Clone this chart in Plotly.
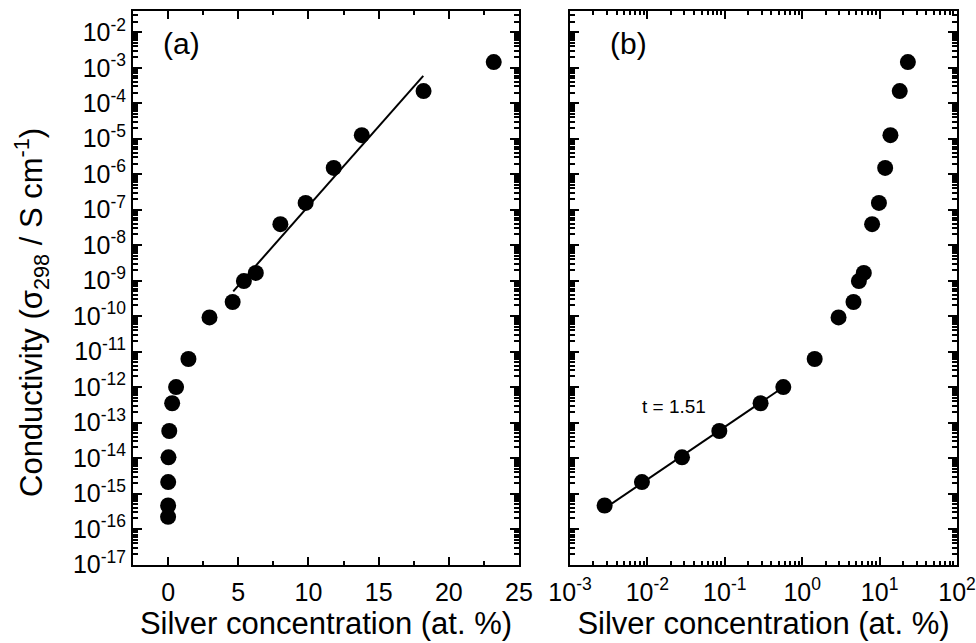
import plotly.graph_objects as go

# ---- data ----
silver_at_pct = [0.0, 0.0028, 0.0085, 0.028, 0.085, 0.29, 0.57, 1.45, 2.95,
                 4.6, 5.4, 6.25, 8.0, 9.8, 11.8, 13.8, 18.2, 23.2]
conductivity = [2.2e-16, 4.6e-16, 2.1e-15, 1.05e-14, 5.8e-14, 3.5e-13, 1.0e-12,
                6.2e-12, 9.2e-11, 2.5e-10, 9.7e-10, 1.65e-9, 3.9e-8, 1.55e-7,
                1.5e-6, 1.26e-5, 2.2e-4, 1.45e-3]

fit_a_x = [4.64, 18.18]
fit_a_y = [5.0e-10, 5.9e-4]

fit_b_x = [0.00244, 0.521]
fit_b_y = [3.1e-16, 8.7e-13]

y_decades = list(range(-17, -1))          # 1e-17 ... 1e-2
y_tick_vals = [10.0 ** d for d in y_decades]
y_tick_text = ["10<sup>%d</sup>" % d for d in y_decades]

xb_decades = list(range(-3, 3))
xb_tick_vals = [10.0 ** d for d in xb_decades]
xb_tick_text = ["10<sup>%d</sup>" % d for d in xb_decades]

a_x_ticks = [0, 5, 10, 15, 20, 25]

fit_label = "t = 1.51"
x_title = "Silver concentration (at. %)"
y_title = "Conductivity (σ<sub>298</sub> / S cm<sup>-1</sup>)"

# ---- figure ----
FONT = "Liberation Sans, Arial, sans-serif"
W, H = 976, 643

def minor_log(decs):
    out = []
    for d in decs:
        for k in range(2, 10):
            out.append(k * 10.0 ** d)
    return out

fig = go.Figure()

mk = dict(color="black", size=16, line=dict(width=0))

fig.add_trace(go.Scatter(x=silver_at_pct, y=conductivity, mode="markers",
                         marker=mk, xaxis="x", yaxis="y", showlegend=False))
fig.add_trace(go.Scatter(x=fit_a_x, y=fit_a_y, mode="lines",
                         line=dict(color="black", width=2), xaxis="x", yaxis="y",
                         showlegend=False))

pos = [(x, y) for x, y in zip(silver_at_pct, conductivity) if x > 0]
fig.add_trace(go.Scatter(x=[p[0] for p in pos], y=[p[1] for p in pos], mode="markers",
                         marker=mk, xaxis="x2", yaxis="y2", showlegend=False))
fig.add_trace(go.Scatter(x=fit_b_x, y=fit_b_y, mode="lines",
                         line=dict(color="black", width=2), xaxis="x2", yaxis="y2",
                         showlegend=False))

ydom = [(H - 564.5) / H, (H - 11) / H]
xdom_a = [133 / W, 519 / W]
xdom_b = [570 / W, 957 / W]

common = dict(showline=True, linecolor="black", linewidth=2, mirror="allticks",
              ticks="inside", tickcolor="black", tickwidth=2, showgrid=False,
              zeroline=False, tickfont=dict(family=FONT, size=25, color="black"))

minor_y = dict(ticks="inside", ticklen=5, tickwidth=1.5, tickcolor="black",
               tickmode="array", tickvals=minor_log(range(-17, -1)), showgrid=False)

TITLE_FONT = dict(family=FONT, size=31, color="black")

fig.update_layout(
    width=W, height=H,
    margin=dict(l=0, r=0, t=0, b=0),
    paper_bgcolor="white", plot_bgcolor="white",
    font=dict(family=FONT, color="black"),
    xaxis=dict(domain=xdom_a, anchor="y", range=[-2.5, 25],
               tickmode="array", tickvals=a_x_ticks, ticklen=8, ticklabelstandoff=4,
               minor=dict(ticks="inside", ticklen=4, tickwidth=1.5, tickcolor="black",
                          dtick=2.5, tick0=0, showgrid=False),
               title=dict(text=x_title, font=TITLE_FONT, standoff=8),
               automargin=False, **common),
    yaxis=dict(domain=ydom, anchor="x", type="log", range=[-17, -1.4],
               tickmode="array", tickvals=y_tick_vals, ticktext=y_tick_text, ticklen=9,
               minor=minor_y, automargin=False, **common),
    xaxis2=dict(domain=xdom_b, anchor="y2", type="log", range=[-3, 2],
                tickmode="array", tickvals=xb_tick_vals, ticktext=xb_tick_text, ticklen=8,
                ticklabelstandoff=4,
                minor=dict(ticks="inside", ticklen=4, tickwidth=1.5, tickcolor="black",
                           tickmode="array", tickvals=minor_log(range(-3, 2)), showgrid=False),
                title=dict(text=x_title, font=TITLE_FONT, standoff=8),
                automargin=False, **common),
    yaxis2=dict(domain=ydom, anchor="x2", type="log", range=[-17, -1.4],
                tickmode="array", tickvals=y_tick_vals, ticklen=9, showticklabels=False,
                minor=minor_y, automargin=False, **common),
    annotations=[
        dict(text=y_title, xref="paper", yref="paper", x=31 / W, y=(H - 313) / H,
             xanchor="center", yanchor="middle", textangle=-90, showarrow=False,
             font=TITLE_FONT),
        dict(text="(a)", xref="x domain", yref="y domain", x=(161 - 133) / 386,
             y=(564.5 - 43) / 553.5, xanchor="left", yanchor="middle", showarrow=False,
             font=dict(family=FONT, size=30, color="black")),
        dict(text="(b)", xref="x2 domain", yref="y2 domain", x=(608 - 570) / 387,
             y=(564.5 - 43) / 553.5, xanchor="left", yanchor="middle", showarrow=False,
             font=dict(family=FONT, size=30, color="black")),
        dict(text=fit_label, xref="x2", yref="y2", x=-1.655, y=-12.54,
             xanchor="center", yanchor="middle", showarrow=False,
             font=dict(family=FONT, size=19, color="black")),
    ],
)

fig.write_html("out.html", config={"displayModeBar": False},
               post_script="document.body.style.margin='0px';")
